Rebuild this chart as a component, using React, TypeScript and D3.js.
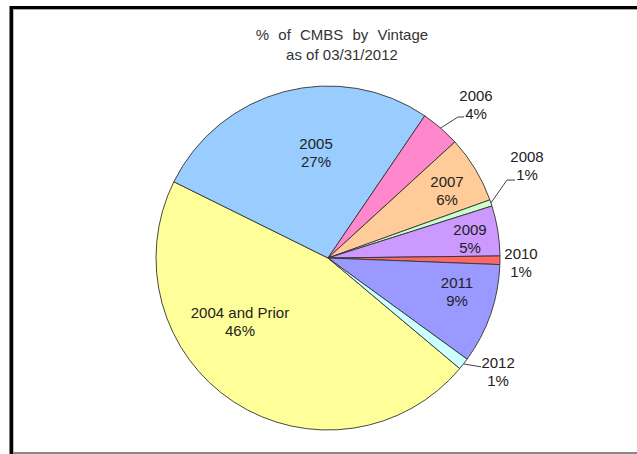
import React from "react";
import * as d3 from "d3";

// ---- data ----
const categories = ["2004 and Prior", "2005", "2006", "2007", "2008", "2009", "2010", "2011", "2012"];
const shares = [46.2, 27.2, 3.7, 6.3, 0.6, 4.7, 0.8, 9.4, 1.1];
const colors = ["#FFFF99", "#99CCFF", "#FF88CC", "#FFCC99", "#CCFFCC", "#CC99FF", "#FF6666", "#9999FF", "#CCFFFF"];
const titleLines = ["% of CMBS by Vintage", "as of 03/31/2012"];

// ---- layout ----
const W = 637;
const H = 454;
const CX = 328;
const CY = 258;
const R = 172;
const START_DEG = 130;
// label anchor in polar coords around the pie centre (deg clockwise from 12 o'clock, px)
const labelLayout: Record<string, { a: number; r: number; leader?: { dx: number; dy: number; elbow: number } }> = {
  "2004 and Prior": { a: 234, r: 108.8 },
  "2005": { a: 353.5, r: 105.7 },
  "2006": { a: 44.05, r: 212.9, leader: { dx: -12, dy: 12, elbow: 6 } },
  "2007": { a: 60.6, r: 136.6 },
  "2008": { a: 65.2, r: 219.2, leader: { dx: -12, dy: 14, elbow: 8 } },
  "2009": { a: 82.4, r: 143.3 },
  "2010": { a: 91.5, r: 193.1 },
  "2011": { a: 104.8, r: 133.4 },
  "2012": { a: 123.8, r: 204.7, leader: { dx: -17, dy: -5, elbow: 0 } },
};

const rad = (deg: number) => (deg * Math.PI) / 180;

export default function App() {
  const data = categories.map((c, i) => ({ cat: c, v: shares[i], color: colors[i] }));
  const pie = d3
    .pie<{ cat: string; v: number; color: string }>()
    .sort(null)
    .value((d) => d.v)
    .startAngle(rad(START_DEG))
    .endAngle(rad(START_DEG) + 2 * Math.PI);
  const arcs = pie(data);
  const arc = d3
    .arc<d3.PieArcDatum<{ cat: string; v: number; color: string }>>()
    .innerRadius(0)
    .outerRadius(R);
  const edgeArc = d3
    .arc<d3.PieArcDatum<{ cat: string; v: number; color: string }>>()
    .innerRadius(R)
    .outerRadius(R);

  const font = "'Liberation Sans', Arial, sans-serif";

  return (
    <svg
      width={W}
      height={H}
      style={{ position: "absolute", left: 0, top: 0, background: "#fff" }}
      fontFamily={font}
    >
      <rect x={0} y={0} width={W} height={H} fill="#fff" />
      {/* frame */}
      <rect x={10} y={6} width={W - 10} height={3} fill="#000" />
      <rect x={13} y={9} width={W - 13} height={1} fill="#aaa" />
      <rect x={9.5} y={6} width={3.5} height={H - 6} fill="#000" />
      <rect x={13} y={9} width={1} height={H - 9} fill="#bbb" />
      <rect x={13} y={452} width={W - 13} height={2} fill="#888" />

      {/* title */}
      <text x={342} y={40} textAnchor="middle" fontSize={15} fill="#333" wordSpacing={5}>
        {titleLines[0]}
      </text>
      <text x={342} y={60} textAnchor="middle" fontSize={15} fill="#333">
        {titleLines[1]}
      </text>

      <g transform={`translate(${CX},${CY})`}>
        {arcs.map((a) => (
          <path key={a.data.cat} d={arc(a) || ""} fill={a.data.color} stroke="#333" strokeWidth={0.9} strokeLinejoin="round" />
        ))}
        {arcs.map((a) => {
          const lay = labelLayout[a.data.cat];
          const lx = lay.r * Math.sin(rad(lay.a));
          const ly = -lay.r * Math.cos(rad(lay.a));
          let leader = null;
          if (lay.leader) {
            const [sx, sy] = edgeArc.centroid(a);
            const ex = lx + lay.leader.dx;
            const ey = ly + lay.leader.dy;
            leader = (
              <polyline
                points={`${sx},${sy} ${ex - lay.leader.elbow},${ey} ${ex},${ey}`}
                fill="none"
                stroke="#444"
                strokeWidth={1}
              />
            );
          }
          return (
            <g key={"l" + a.data.cat}>
              {leader}
              <text textAnchor="middle" fontSize={15} fill="#222">
                <tspan x={lx} y={ly - 4}>
                  {a.data.cat}
                </tspan>
                <tspan x={lx} y={ly + 14}>
                  {Math.round(a.data.v) + "%"}
                </tspan>
              </text>
            </g>
          );
        })}
      </g>
    </svg>
  );
}
